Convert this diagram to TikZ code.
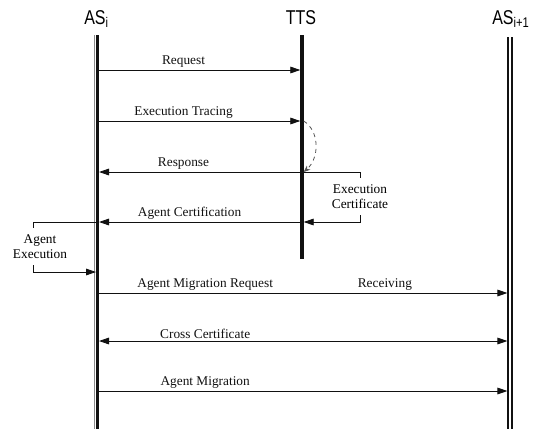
\documentclass[tikz,border=0pt]{standalone}
\usepackage{fontspec}
\setmainfont{Liberation Serif}
\newfontfamily\headfont[FakeStretch=0.8]{Liberation Sans}
\usetikzlibrary{arrows.meta, calc}
\definecolor{linecol}{HTML}{111111}
\definecolor{faintcol}{HTML}{8A8A8A}
\definecolor{dashcol}{HTML}{555555}

\begin{document}
\begin{tikzpicture}[
    x=0.75pt, y=-0.75pt,
    >={Triangle[length=7.5pt, width=5pt]},
    head/.style={font=\headfont\fontsize{15}{15}\selectfont, inner sep=0pt},
    lifeline/.style={line width=2.2pt, linecol},
    msg/.style={line width=0.65pt, linecol},
    lbl/.style={font=\fontsize{10}{11}\selectfont, inner sep=1.5pt},
    note/.style={font=\fontsize{10}{11.25}\selectfont, align=center, inner xsep=1.5pt, inner ysep=5pt},
]
\useasboundingbox (0,0) rectangle (535,429);

% ── Lifeline heads ──
\node[head, anchor=base west] (asi) at (84,24)  {AS\textsubscript{i}};
\node[head, anchor=base]      (tts) at (301,24) {TTS};
\node[head, anchor=base west] (asj) at (492,24) {AS\textsubscript{i+1}};

% ── Lifelines ──
\coordinate (asiTop) at (97.5,35);  \coordinate (asiBot) at (97.5,429);
\coordinate (ttsTop) at (302,35);   \coordinate (ttsBot) at (302,259);
\coordinate (asjTop) at (510,37);   \coordinate (asjBot) at (510,429);

\draw[faintcol, line width=0.6pt] ([xshift=-2.6pt]asiTop) -- ([xshift=-2.6pt]asiBot);
\draw[lifeline] (asiTop) -- (asiBot);
\draw[lifeline, line width=2.6pt] (ttsTop) -- (ttsBot);
\draw[linecol, line width=0.9pt, double, double distance=2.1pt] (asjTop) -- (asjBot);

% ── Lifeline edges and message levels ──
\coordinate (asiL) at (96,0);
\coordinate (asiR) at (99,0);
\coordinate (ttsL) at (300.3,0);
\coordinate (ttsR) at (303.7,0);
\coordinate (asjL) at (507.4,0);

\coordinate (yReq)   at (0,70);
\coordinate (yTrace) at (0,121);
\coordinate (yResp)  at (0,172);
\coordinate (yCert)  at (0,222);
\coordinate (yExec)  at (0,272);
\coordinate (yMigReq) at (0,293);
\coordinate (yCross) at (0,341);
\coordinate (yMig)   at (0,391);

% ── AS_i <-> TTS ──
\draw[msg, ->] (asiR |- yReq) -- (ttsL |- yReq)
    node[lbl, pos=0.42, above] {Request};
\draw[msg, ->] (asiR |- yTrace) -- (ttsL |- yTrace)
    node[lbl, pos=0.42, above] {Execution Tracing};
\draw[msg, ->] (ttsL |- yResp) -- (asiR |- yResp)
    node[lbl, pos=0.58, above] {Response};
\draw[msg, ->] (ttsL |- yCert) -- (asiR |- yCert)
    node[lbl, pos=0.55, above] {Agent Certification};

% ── TTS self steps ──
\draw[line width=0.6pt, dashcol, dashed, -{Stealth[length=5pt, width=4pt]}]
    (ttsR |- yTrace) .. controls ($(ttsR |- yTrace)+(16,10)$) and ($(ttsR |- yResp)+(16,-14)$) .. (ttsR |- yResp);

\node[note] (excert) at (360,196.5) {Execution\\Certificate};
\draw[msg] (ttsR |- yResp) -| (excert.north);
\draw[msg, ->] (excert.south) |- (ttsR |- yCert);

% ── AS_i self step ──
\node[note] (agexec) at (40,246.5) {Agent\\Execution};
\draw[msg] (asiL |- yCert) -| ([xshift=-5.25pt]agexec.north);
\draw[msg, ->] ([xshift=-5.25pt]agexec.south) |- (asiL |- yExec);

% ── AS_i <-> AS_i+1 ──
\draw[msg, ->] (asiR |- yMigReq) -- (asjL |- yMigReq)
    node[lbl, pos=0.26, above] {Agent Migration Request}
    node[lbl, pos=0.70, above] {Receiving};
\draw[msg, <->] (asiR |- yCross) -- (asjL |- yCross)
    node[lbl, pos=0.26, above] {Cross Certificate};
\draw[msg, ->] (asiR |- yMig) -- (asjL |- yMig)
    node[lbl, pos=0.26, above] {Agent Migration};

\end{tikzpicture}
\end{document}
